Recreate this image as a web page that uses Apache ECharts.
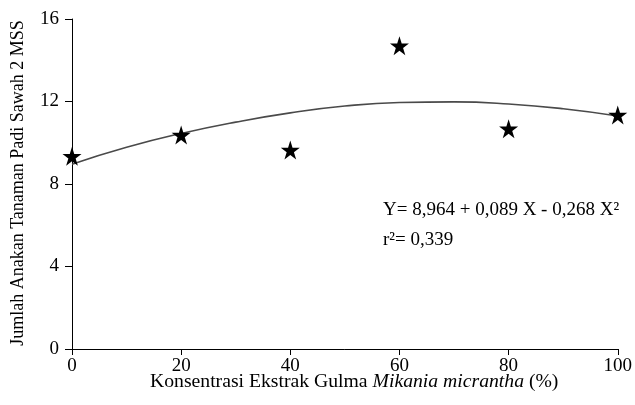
<!DOCTYPE html>
<html>
<head>
<meta charset="utf-8">
<script src="https://cdn.jsdelivr.net/npm/echarts@6/dist/echarts.min.js"></script>
<style>html,body{margin:0;padding:0;background:#fff;}#c{width:635px;height:405px;}</style>
</head>
<body>
<div id="c"></div>
<script>
// Observed data (stars)
const obsX = [0, 20, 40, 60, 80, 100];
const obsY = [9.35, 10.38, 9.65, 14.7, 10.68, 11.35];
// Fitted curve, values
const fitX = [0, 10, 20, 30, 40, 50, 60, 70, 80, 90, 100];
const fitY = [8.96, 9.78, 10.45, 11.0, 11.45, 11.78, 11.95, 11.98, 11.88, 11.65, 11.3];
const xTicks = [0, 20, 40, 60, 80, 100];
const yTicks = [0, 4, 8, 12, 16];
const xTitle = 'Konsentrasi Ekstrak Gulma ';
const xTitleItalic = 'Mikania micrantha';
const xTitleEnd = ' (%)';
const yTitle = 'Jumlah Anakan Tanaman Padi Sawah 2 MSS';
const eqLine1 = 'Y= 8,964 + 0,089 X - 0,268 X²';
const eqLine2 = 'r²= 0,339';

const FONT = 'Liberation Serif';
const star = 'path://M50,0 L61.2,34.5 L97.6,34.5 L68.2,55.9 L79.4,90.5 L50,69.1 L20.6,90.5 L31.8,55.9 L2.4,34.5 L38.8,34.5 Z';

const chart = echarts.init(document.getElementById('c'), null, {renderer: 'canvas'});
chart.setOption({
  animation: false,
  backgroundColor: '#fff',
  textStyle: {fontFamily: FONT},
  grid: {left: 72, right: 15, top: 19, bottom: 56, containLabel: false},
  xAxis: {
    type: 'value', min: xTicks[0], max: xTicks[xTicks.length - 1], interval: 20,
    axisLine: {lineStyle: {color: '#000', width: 1}},
    axisTick: {show: true, length: 6, lineStyle: {color: '#000'}},
    axisLabel: {color: '#000', fontFamily: FONT, fontSize: 19, margin: 8},
    splitLine: {show: false}
  },
  yAxis: {
    type: 'value', min: yTicks[0], max: yTicks[yTicks.length - 1], interval: 4,
    offset: 2,
    axisLine: {show: true, lineStyle: {color: '#000', width: 1}},
    axisTick: {show: true, length: 7, lineStyle: {color: '#000'}},
    axisLabel: {color: '#000', fontFamily: FONT, fontSize: 19, margin: 11},
    splitLine: {show: false}
  },
  graphic: [
    {
      type: 'text', x: 150, y: 372,
      style: {
        rich: {
          n: {fontFamily: FONT, fontSize: 19.7, fill: '#000'},
          i: {fontFamily: FONT, fontSize: 19.7, fontStyle: 'italic', fill: '#000'}
        },
        text: '{n|' + xTitle + '}{i|' + xTitleItalic + '}{n|' + xTitleEnd + '}'
      }
    },
    {
      type: 'text', x: 9, y: 183, rotation: Math.PI / 2,
      style: {text: yTitle, fontFamily: FONT, fontSize: 18, fill: '#000', align: 'center', verticalAlign: 'top'}
    },
    {
      type: 'text', x: 383, y: 201,
      style: {text: eqLine1, fontFamily: FONT, fontSize: 19, fill: '#000'}
    },
    {
      type: 'text', x: 383, y: 231,
      style: {text: eqLine2, fontFamily: FONT, fontSize: 19, fill: '#000'}
    }
  ],
  series: [
    {
      type: 'line', smooth: true, symbol: 'none',
      data: fitX.map((x, i) => [x, fitY[i]]),
      lineStyle: {color: '#4a4a4a', width: 1.6},
      z: 2
    },
    {
      type: 'scatter', symbol: star, symbolSize: 19,
      data: obsX.map((x, i) => [x, obsY[i]]),
      itemStyle: {color: '#000', opacity: 1},
      z: 3
    }
  ]
});
</script>
</body>
</html>
